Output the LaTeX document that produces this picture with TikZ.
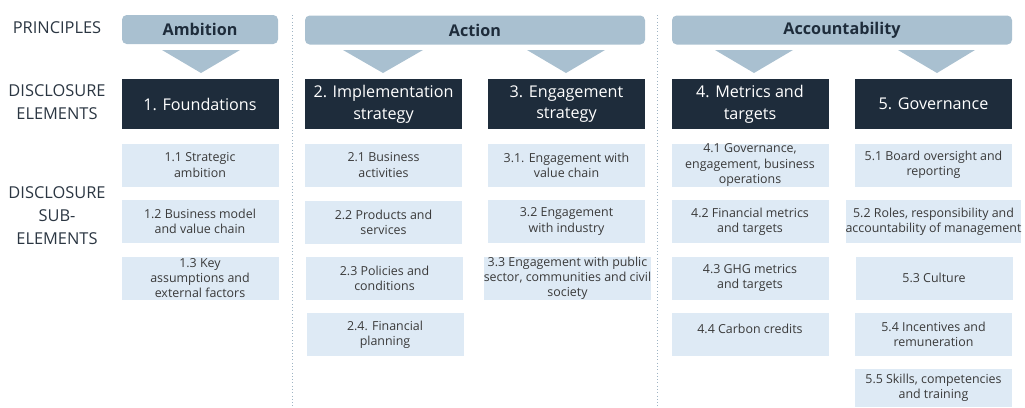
\documentclass[tikz,border=0pt]{standalone}
\usepackage{fontspec}
\setmainfont{Open Sans}

\definecolor{barblue}{HTML}{A9C0D0}
\definecolor{navybox}{HTML}{1E2C3B}
\definecolor{paleblue}{HTML}{DEEAF5}
\definecolor{inkgray}{HTML}{3A3A3A}
\definecolor{sidegray}{HTML}{2B3642}
\definecolor{rulegray}{HTML}{9FB4C4}

\newlength\px
\setlength\px{0.03cm}

\tikzset{
  principle/.style={fill=barblue, rounded corners=4pt, inner sep=0pt, minimum height=29*\px,
    text=navybox, font=\bfseries\fontsize{13.8}{15}\selectfont},
  element/.style={fill=navybox, inner sep=0pt, minimum width=157*\px, minimum height=50*\px,
    text=white, align=center, font=\fontsize{13.8}{18.5}\selectfont},
  subel/.style={fill=paleblue, inner sep=0pt, minimum width=157*\px, minimum height=43*\px,
    text=inkgray, align=center, font=\fontsize{10.6}{12.9}\selectfont},
  side/.style={text=sidegray, align=center, font=\fontsize{14}{19.6}\selectfont},
  tri/.style={fill=barblue},
  sep/.style={rulegray, dotted, thick}
}

\begin{document}
\begin{tikzpicture}[x=\px, y=-\px]
\useasboundingbox (0,0) rectangle (1025,407);

% row titles
\node[side] (lprin) at (57,28) {PRINCIPLES};
\node[side] (lelem) at (57,102) {DISCLOSURE\\ELEMENTS};
\node[side] (lsub) at (57,216) {DISCLOSURE\\SUB-\\ELEMENTS};

% column separators
\draw[sep] (292,15) -- (292,407);
\draw[sep] (657,15) -- (657,407);

% principles
\node[principle, minimum width=156*\px] (ambition) at (200,29.5) {Ambition};
\node[principle, minimum width=340*\px] (action) at (475,30) {Action};
\node[principle, minimum width=340*\px] (account) at (842,30) {Accountability};

\fill[tri] (162,50) -- (240,50) -- (201,73) -- cycle;
\fill[tri] (343,50) -- (423,50) -- (383,73) -- cycle;
\fill[tri] (527,50) -- (605,50) -- (566,73) -- cycle;
\fill[tri] (715,50) -- (793,50) -- (754,73) -- cycle;
\fill[tri] (898,50) -- (975,50) -- (937,73) -- cycle;

% disclosure elements
\node[element] (found) at (200,104) {1. Foundations};
\node[element] (impl) at (383.5,104) {2. Implementation\\strategy};
\node[element] (engage) at (566.5,104) {3. Engagement\\strategy};
\node[element] (metrics) at (750,104) {4. Metrics and\\targets};
\node[element] (gov) at (933.5,104) {5. Governance};

% sub-elements
\node[subel] (s11) at (200,165) {1.1 Strategic\\ambition};
\node[subel] (s12) at (200,221.5) {1.2 Business model\\and value chain};
\node[subel] (s13) at (200,278) {1.3 Key\\assumptions and\\external factors};

\node[subel] (s21) at (383.5,165) {2.1 Business\\activities};
\node[subel] (s22) at (383.5,222) {2.2 Products and\\services};
\node[subel] (s23) at (384.5,278.5) {2.3 Policies and\\conditions};
\node[subel] (s24) at (385,334.5) {2.4. Financial\\planning};

\node[subel] (s31) at (566.5,165) {3.1. Engagement with\\value chain};
\node[subel] (s32) at (566.5,221.5) {3.2 Engagement\\with industry};
\node[subel] (s33) at (567.5,278) {3.3 Engagement with public\\sector, communities and civil\\society};

\node[subel] (s41) at (750,165) {4.1 Governance,\\engagement, business\\operations};
\node[subel] (s42) at (750,221.5) {4.2 Financial metrics\\and targets};
\node[subel] (s43) at (750,278) {4.3 GHG metrics\\and targets};
\node[subel] (s44) at (750,334.5) {4.4 Carbon credits\\[-3pt]\mbox{}};

\node[subel] (s51) at (933.5,165) {5.1 Board oversight and\\reporting};
\node[subel] (s52) at (933.5,221.5) {5.2 Roles, responsibility and\\accountability of management};
\node[subel] (s53) at (934,278) {5.3 Culture};
\node[subel] (s54) at (933.5,334.5) {5.4 Incentives and\\remuneration};
\node[subel, minimum height=38*\px] (s55) at (933.5,388) {5.5 Skills, competencies\\and training};
\end{tikzpicture}
\end{document}
